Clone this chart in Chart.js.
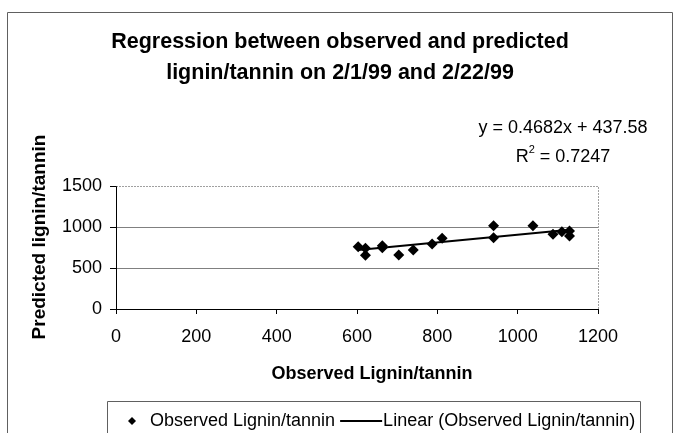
<!DOCTYPE html>
<html>
<head>
<meta charset="utf-8">
<script src="https://cdn.jsdelivr.net/npm/chart.js@4.4.1/dist/chart.umd.min.js"></script>
<style>
  html, body { margin: 0; padding: 0; background: #fff; }
  #wrap { width: 679px; height: 433px; position: relative; }
</style>
</head>
<body>
<div id="wrap"><canvas id="c" width="679" height="433"></canvas></div>
<script>
// ---- data ----
const observedX = [603, 621, 621, 663, 663, 704, 740, 787, 812, 940, 940, 1038, 1088, 1110, 1129, 1129];
const predictedY = [760, 740, 655, 770, 748, 658, 720, 793, 862, 1016, 870, 1016, 911, 943, 951, 890];
const trendX = [603, 1129];
const trendY = [720, 966];
const xTicks = [0, 200, 400, 600, 800, 1000, 1200];
const yTicks = [0, 500, 1000, 1500];
const titleLines = ["Regression between observed and predicted", "lignin/tannin on 2/1/99 and 2/22/99"];
const xTitle = "Observed Lignin/tannin";
const yTitle = "Predicted lignin/tannin";
const equationText = "y = 0.4682x + 437.58";
const r2Label = "R";
const r2Value = " = 0.7247";
const seriesName = "Observed Lignin/tannin";
const trendName = "Linear (Observed Lignin/tannin)";

const FONT = "'Liberation Sans', Arial, sans-serif";

const decor = {
  id: 'decor',
  beforeDraw(chart) {
    const ctx = chart.ctx;
    ctx.save();
    ctx.fillStyle = '#fff';
    ctx.fillRect(0, 0, chart.width, chart.height);
    // outer frame
    ctx.strokeStyle = '#606060';
    ctx.lineWidth = 1;
    ctx.beginPath();
    ctx.moveTo(7.5, 440); ctx.lineTo(7.5, 12.5); ctx.lineTo(672.5, 12.5); ctx.lineTo(672.5, 440);
    ctx.stroke();
    ctx.restore();
  },
  afterDraw(chart) {
    const ctx = chart.ctx;
    const a = chart.chartArea;
    ctx.save();
    // dotted top and right border of plot area
    ctx.strokeStyle = '#404040';
    ctx.setLineDash([1, 2]);
    ctx.lineWidth = 1;
    ctx.beginPath();
    ctx.moveTo(Math.round(a.left) + 0.5, Math.round(a.top) + 0.5);
    ctx.lineTo(Math.round(a.right) + 0.5, Math.round(a.top) + 0.5);
    ctx.lineTo(Math.round(a.right) + 0.5, Math.round(a.bottom) + 0.5);
    ctx.stroke();
    ctx.setLineDash([]);

    ctx.fillStyle = '#000';
    ctx.textAlign = 'center';
    ctx.textBaseline = 'middle';
    // title
    ctx.font = 'bold 21.5px ' + FONT;
    ctx.fillText(titleLines[0], 340, 42);
    ctx.fillText(titleLines[1], 340, 73);
    // axis titles
    ctx.font = 'bold 18px ' + FONT;
    ctx.fillText(xTitle, 372, 374);
    ctx.save();
    ctx.translate(40, 237);
    ctx.rotate(-Math.PI / 2);
    ctx.font = 'bold 19px ' + FONT;
    ctx.fillText(yTitle, 0, 0);
    ctx.restore();
    // equation
    ctx.font = '18px ' + FONT;
    ctx.textAlign = 'center';
    ctx.fillText(equationText, 563, 128);
    ctx.textAlign = 'left';
    const rw = ctx.measureText(r2Label).width;
    const vw = ctx.measureText(r2Value).width;
    const total = rw + 6 + vw;
    const r2x = 563 - total / 2;
    ctx.fillText(r2Label, r2x, 157);
    ctx.font = '11px ' + FONT;
    ctx.fillText('2', r2x + rw, 150);
    ctx.font = '18px ' + FONT;
    ctx.fillText(r2Value, r2x + rw + 6, 157);

    // legend box
    ctx.strokeStyle = '#606060';
    ctx.lineWidth = 1;
    ctx.beginPath();
    ctx.moveTo(107.5, 440); ctx.lineTo(107.5, 401.5); ctx.lineTo(640.5, 401.5); ctx.lineTo(640.5, 440);
    ctx.stroke();
    // diamond marker
    ctx.fillStyle = '#000';
    ctx.beginPath();
    ctx.moveTo(132, 417); ctx.lineTo(136, 421); ctx.lineTo(132, 425); ctx.lineTo(128, 421);
    ctx.closePath(); ctx.fill();
    ctx.font = '18px ' + FONT;
    ctx.textBaseline = 'middle';
    ctx.fillText(seriesName, 150, 421);
    const w1 = ctx.measureText(seriesName).width;
    const lx = 150 + w1 + 5;
    ctx.lineWidth = 2;
    ctx.strokeStyle = '#000';
    ctx.beginPath();
    ctx.moveTo(lx, 421); ctx.lineTo(lx + 42, 421);
    ctx.stroke();
    ctx.fillText(trendName, lx + 43, 421);
    ctx.restore();
  }
};

new Chart(document.getElementById('c'), {
  type: 'scatter',
  data: {
    datasets: [
      {
        label: seriesName,
        data: observedX.map((x, i) => ({ x, y: predictedY[i] })),
        pointStyle: 'rectRot',
        pointRadius: 5.5,
        backgroundColor: '#000',
        borderColor: '#000',
        borderWidth: 0,
        order: 1
      },
      {
        type: 'line',
        label: trendName,
        data: trendX.map((x, i) => ({ x, y: trendY[i] })),
        borderColor: '#000',
        borderWidth: 2,
        pointRadius: 0,
        showLine: true,
        fill: false,
        order: 2
      }
    ]
  },
  options: {
    responsive: false,
    animation: false,
    devicePixelRatio: 1,
    layout: { padding: { left: 0, top: 186, right: 81, bottom: 0 } },
    plugins: { legend: { display: false }, tooltip: { enabled: false }, title: { display: false } },
    scales: {
      x: {
        type: 'linear',
        min: 0, max: 1200,
        afterBuildTicks(s) { s.ticks = xTicks.map(v => ({ value: v })); },
        afterFit(s) { s.height = 124; },
        ticks: { color: '#000', font: { family: FONT, size: 18 }, padding: 12, callback: v => String(v), maxRotation: 0 },
        grid: { drawOnChartArea: false, color: '#000', tickLength: 5, tickColor: '#000' },
        border: { color: '#000', width: 1 }
      },
      y: {
        type: 'linear',
        min: 0, max: 1500,
        afterBuildTicks(s) { s.ticks = yTicks.map(v => ({ value: v })); },
        afterFit(s) { s.width = 116; },
        ticks: { color: '#000', font: { family: FONT, size: 18 }, padding: 8, callback: v => String(v) },
        grid: {
          color: ctx => (ctx.tick && (ctx.tick.value === 500 || ctx.tick.value === 1000)) ? '#808080' : 'rgba(0,0,0,0)',
          tickColor: '#000',
          tickLength: 6
        },
        border: { color: '#000', width: 1 }
      }
    }
  },
  plugins: [decor]
});
</script>
</body>
</html>
